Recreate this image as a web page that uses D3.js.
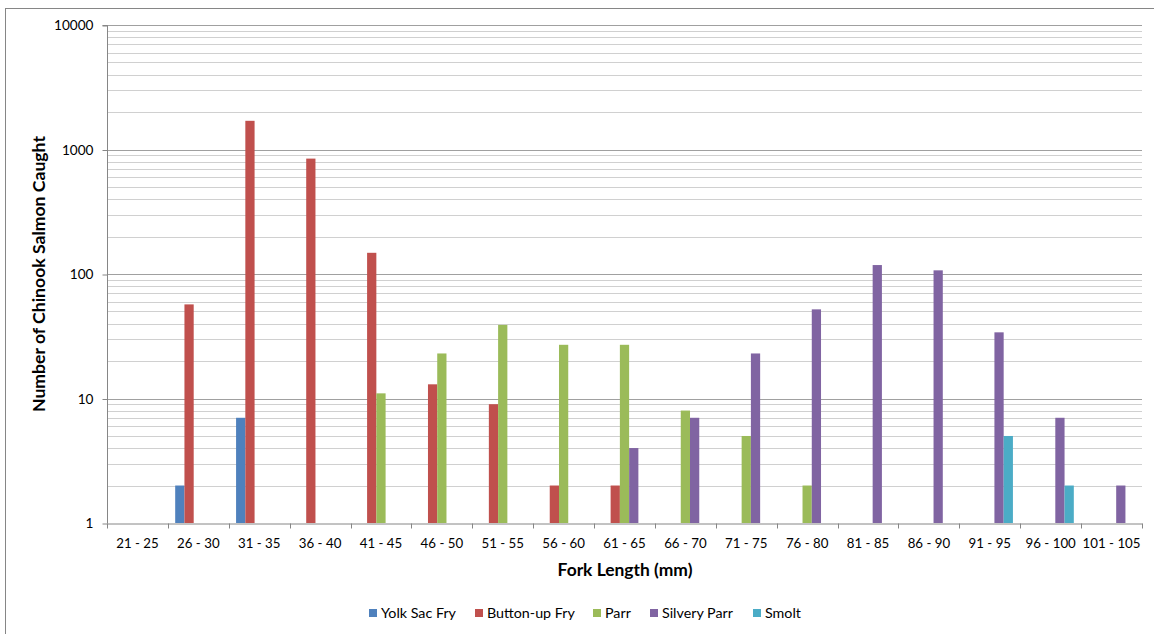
<!DOCTYPE html>
<html><head><meta charset="utf-8">
<script src="https://cdn.jsdelivr.net/npm/d3@7"></script>
<style>
html,body{margin:0;padding:0;background:#fff;}
text{font-family:Lato,"Open Sans",sans-serif;fill:#000;}
</style></head>
<body>
<svg id="chart" width="1154" height="634"></svg>
<script>
const categories = ["21 - 25","26 - 30","31 - 35","36 - 40","41 - 45","46 - 50","51 - 55","56 - 60","61 - 65","66 - 70","71 - 75","76 - 80","81 - 85","86 - 90","91 - 95","96 - 100","101 - 105"];
const seriesNames = ["Yolk Sac Fry","Button-up Fry","Parr","Silvery Parr","Smolt"];
const seriesColors = ["#4F81BD","#C0504D","#9BBB59","#8064A2","#4BACC6"];
const yolkSacFry   = [null,2,7,null,null,null,null,null,null,null,null,null,null,null,null,null,null];
const buttonUpFry  = [null,57,1700,845,148,13,9,2,2,null,null,null,null,null,null,null,null];
const parr         = [null,null,null,null,11,23,39,27,27,8,5,2,null,null,null,null,null];
const silveryParr  = [null,null,null,null,null,null,null,null,4,7,23,52,118,107,34,7,2];
const smolt        = [null,null,null,null,null,null,null,null,null,null,null,null,null,null,5,2,null];
const yTicks = [1,10,100,1000,10000];
const seriesValues = [yolkSacFry,buttonUpFry,parr,silveryParr,smolt];

const svg = d3.select("#chart");
const L = 107, R = 1142, T = 25, B = 523;

// font size that makes a sample string reach a target width
function fitSize(str, target, weight) {
  const t = svg.append("text").style("font-size","100px").style("font-weight",weight||"normal").text(str);
  const w = t.node().getComputedTextLength();
  t.remove();
  return (100*target/w).toFixed(2)+"px";
}
const tickSize = fitSize("21 - 25", 42.5);
const yTickSize = fitSize("10000", 39.5);
const titleSizeX = fitSize("Fork Length (mm)", 135, "bold");
const titleSizeY = fitSize("Number of Chinook Salmon Caught", 276, "bold");
const legendSize = fitSize("Yolk Sac Fry", 75);

// outer border
svg.append("rect").attr("x",5.5).attr("y",8.5).attr("width",1160).attr("height",640)
  .attr("fill","none").attr("stroke","#868686").attr("stroke-width",1);

const x = d3.scaleBand().domain(categories).range([L,R]).paddingInner(0).paddingOuter(0);
const y = d3.scaleLog().domain([1,10000]).range([B,T]);

// minor gridlines
const minor = [];
for (let d=1; d<10000; d*=10) for (let m=2; m<=9; m++) minor.push(d*m);
svg.append("g").selectAll("line").data(minor).join("line")
  .attr("x1",L).attr("x2",R)
  .attr("y1",d=>Math.round(y(d))+0.5).attr("y2",d=>Math.round(y(d))+0.5)
  .attr("stroke","#d0d0d0").attr("stroke-width",1);
// major gridlines
svg.append("g").selectAll("line").data(yTicks.slice(1)).join("line")
  .attr("x1",L).attr("x2",R)
  .attr("y1",d=>Math.round(y(d))+0.5).attr("y2",d=>Math.round(y(d))+0.5)
  .attr("stroke","#a0a0a0").attr("stroke-width",1);

// bars
const n = seriesNames.length;
const bw = x.bandwidth();
const barW = bw/(n+1.58);
const gap = (bw - n*barW)/2;
seriesValues.forEach((vals,si)=>{
  svg.append("g").selectAll("rect")
    .data(vals.map((v,i)=>({v,c:categories[i]})).filter(d=>d.v!=null))
    .join("rect")
    .attr("x",d=>x(d.c)+gap+si*barW)
    .attr("width",barW)
    .attr("y",d=>y(d.v))
    .attr("height",d=>y(1)-y(d.v))
    .attr("fill",seriesColors[si]);
});

// y axis
const yAxis = d3.axisLeft(y).tickValues(yTicks).tickFormat(d3.format("d")).tickSize(5).tickPadding(9);
const gy = svg.append("g").attr("transform",`translate(${L+0.5},0.5)`).call(yAxis);
gy.select(".domain").attr("stroke","#868686").attr("d",`M-5,${T}H0V${B}`);
gy.selectAll(".tick line").attr("stroke","#868686");
gy.selectAll(".tick text").style("font-size",yTickSize).attr("fill","#000");

// x axis
const xAxis = d3.axisBottom(x).tickSize(0).tickPadding(15);
const gx = svg.append("g").attr("transform",`translate(0,${B+0.5})`).call(xAxis);
gx.select(".domain").attr("stroke","#868686");
gx.selectAll(".tick text").style("font-size",tickSize).attr("fill","#000");
// category boundary ticks
const bounds = categories.map(c=>x(c)).concat([R]);
gx.append("g").selectAll("line").data(bounds).join("line")
  .attr("x1",d=>Math.round(d)+0.5).attr("x2",d=>Math.round(d)+0.5)
  .attr("y1",0).attr("y2",5).attr("stroke","#868686");

// axis titles
svg.append("text").attr("x",625).attr("y",576).attr("text-anchor","middle")
  .style("font-size",titleSizeX).style("font-weight","bold").text("Fork Length (mm)");
svg.append("text").attr("transform","translate(45,274) rotate(-90)").attr("text-anchor","middle")
  .style("font-size",titleSizeY).style("font-weight","bold").text("Number of Chinook Salmon Caught");

// legend
const legendX = [369,475,593,650,753];
const lg = svg.append("g");
seriesNames.forEach((s,i)=>{
  lg.append("rect").attr("x",legendX[i]).attr("y",609).attr("width",8).attr("height",8).attr("fill",seriesColors[i]);
  lg.append("text").attr("x",legendX[i]+12).attr("y",618).style("font-size",legendSize).text(s);
});
</script>
</body></html>
